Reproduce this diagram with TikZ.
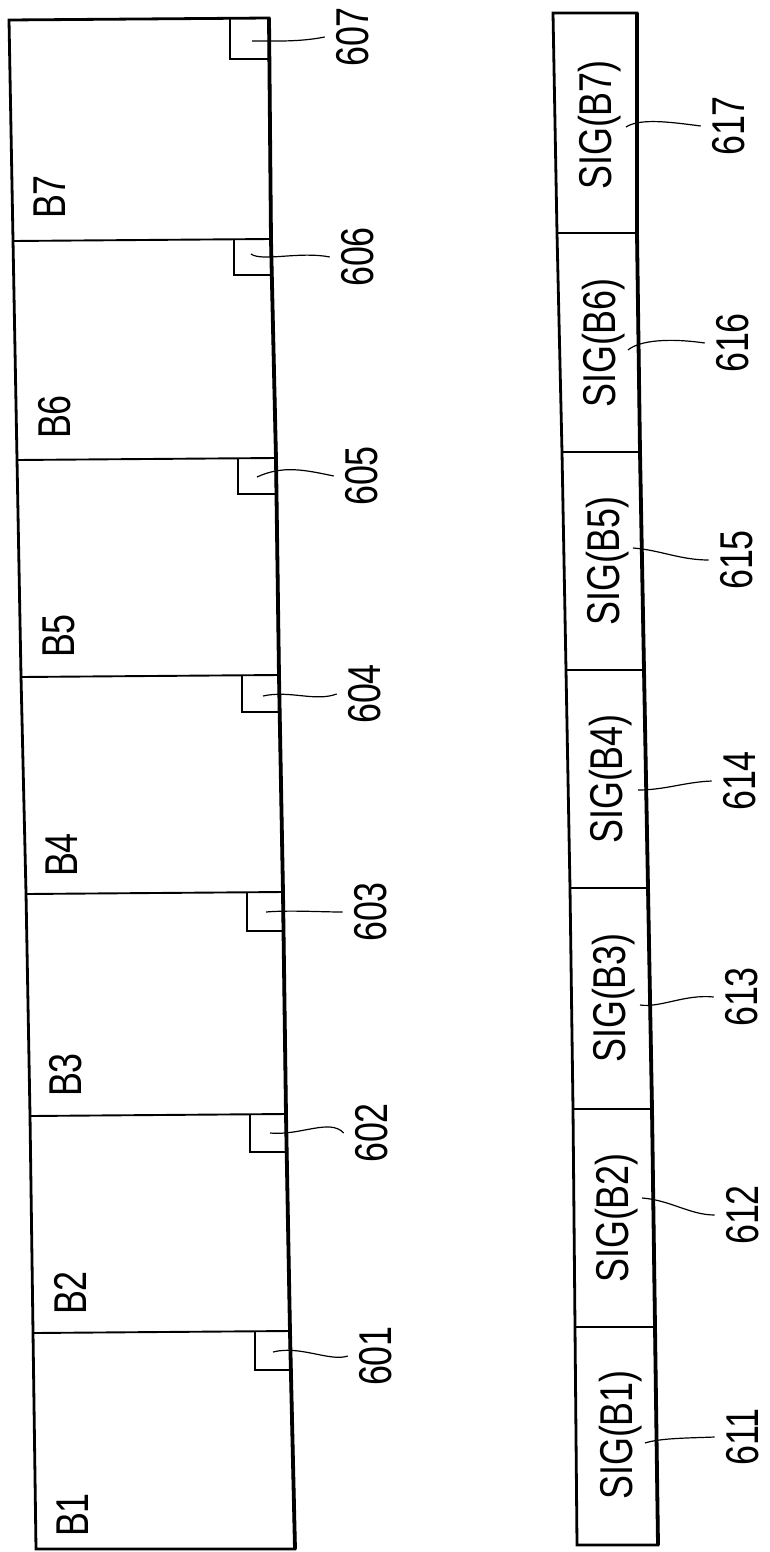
\documentclass[tikz,border=0pt]{standalone}
\usepackage{fontspec}
\setmainfont{Liberation Sans}[FakeStretch=0.78]
\usetikzlibrary{calc}
\begin{document}
\begin{tikzpicture}[x=1pt,y=-1pt,
  outline/.style={line width=2.8pt, line join=miter},
  thickedge/.style={line width=3.8pt},
  divider/.style={line width=1.9pt},
  tab/.style={line width=1.8pt},
  lead/.style={line width=1.2pt},
  txt/.style={rotate=90, inner sep=0pt, font=\fontsize{46}{48}\selectfont},
  ref/.style={txt, outer sep=12pt}]
\useasboundingbox (0,0) rectangle (769,1552);

% ---------- left frame B1..B7 ----------
\draw[outline] (9,20) -- (269,18) -- (271,240) -- (276,459) -- (279,676) -- (283,893)
  -- (286,1115) -- (290,1332) -- (295,1549) -- (36,1549) -- (33,1332) -- (30,1115)
  -- (26,893) -- (21,676) -- (17,459) -- (13,240) -- cycle;
\draw[thickedge] (269,18) -- (271,240) -- (276,459) -- (279,676) -- (283,893)
  -- (286,1115) -- (290,1332) -- (295,1549);
\draw[divider] (13,241) -- (271,239);
\draw[divider] (17,460) -- (276,458);
\draw[divider] (21,677) -- (279,675);
\draw[divider] (26,894) -- (283,892);
\draw[divider] (30,1116) -- (286,1114);
\draw[divider] (33,1333) -- (290,1331);

% small corner squares
\draw[tab] (230,19) -- (230,59) -- (269,59);
\draw[tab] (234,239) -- (234,275) -- (272,275);
\draw[tab] (238,458) -- (238,494) -- (277,494);
\draw[tab] (242,675) -- (242,712) -- (280,712);
\draw[tab] (247,892) -- (247,931) -- (284,931);
\draw[tab] (250,1114) -- (250,1152) -- (287,1152);
\draw[tab] (255,1331) -- (255,1370) -- (291,1370);

% block labels
\foreach \n/\x/\y in {7/50/197, 6/55/417, 5/59/636, 4/62/855, 3/66/1075, 2/70/1293, 1/73/1515}
  \node[txt] (b\n) at (\x,\y) {B\n};

% reference numerals 601..607
\node[ref] (l607) at (353,37) {607};
\node[ref] (l606) at (358,257) {606};
\node[ref] (l605) at (362,476) {605};
\node[ref] (l604) at (365,694) {604};
\node[ref] (l603) at (371,912) {603};
\node[ref] (l602) at (372,1133) {602};
\node[ref] (l601) at (376,1356) {601};

\coordinate (s607) at (252,41);
\coordinate (s606) at (251,254);
\coordinate (s605) at (257,477);
\coordinate (s604) at (263,696);
\coordinate (s603) at (266,912);
\coordinate (s602) at (270,1133);
\coordinate (s601) at (273,1352);

\draw[lead] (s607) .. controls (275,41) and (300,42) .. (l607.north);
\draw[lead] (s606) .. controls (262,262) and (300,251) .. (l606.north);
\draw[lead] (s605) .. controls (283,465) and (305,470) .. (l605.north);
\draw[lead] (s604) .. controls (290,690) and (315,702) .. (l604.north);
\draw[lead] (s603) .. controls (290,910) and (320,912) .. (l603.north);
\draw[lead] (s602) .. controls (300,1136) and (330,1118) .. (l602.north);
\draw[lead] (s601) .. controls (300,1345) and (330,1362) .. (l601.north);

% ---------- right strip SIG(B1)..SIG(B7) ----------
\draw[outline] (553,13) -- (637,13) -- (637,233) -- (640,452) -- (644,670) -- (648,888)
  -- (652,1109) -- (655,1327) -- (658,1545) -- (577,1545) -- (575,1327) -- (573,1109)
  -- (570,888) -- (566,670) -- (562,452) -- (557,233) -- cycle;
\draw[thickedge] (637,13) -- (637,233) -- (640,452) -- (644,670) -- (648,888)
  -- (652,1109) -- (655,1327) -- (658,1545);
\draw[divider] (557,233) -- (637,233);
\draw[divider] (562,452) -- (640,452);
\draw[divider] (566,670) -- (644,670);
\draw[divider] (570,888) -- (648,888);
\draw[divider] (573,1109) -- (652,1109);
\draw[divider] (575,1327) -- (655,1327);

\foreach \n/\x/\y in {7/600/125, 6/604/343, 5/608/561, 4/611/779, 3/614/998, 2/617/1218, 1/621/1435}
  \node[txt] (sig\n) at (\x,\y) {SIG(B\n)};

% reference numerals 611..617
\node[ref] (l617) at (729,126) {617};
\node[ref] (l616) at (733,343) {616};
\node[ref] (l615) at (737,560) {615};
\node[ref] (l614) at (740,781) {614};
\node[ref] (l613) at (742,997) {613};
\node[ref] (l612) at (743,1215) {612};
\node[ref] (l611) at (743,1437) {611};

\coordinate (s617) at (626,127);
\coordinate (s616) at (628,350);
\coordinate (s615) at (633,548);
\coordinate (s614) at (638,790);
\coordinate (s613) at (640,1005);
\coordinate (s612) at (642,1198);
\coordinate (s611) at (645,1443);

\draw[lead] (s617) .. controls (640,118) and (670,122) .. (l617.north);
\draw[lead] (s616) .. controls (640,340) and (670,338) .. (l616.north);
\draw[lead] (s615) .. controls (660,550) and (680,560) .. (l615.north);
\draw[lead] (s614) .. controls (665,790) and (685,782) .. (l614.north);
\draw[lead] (s613) .. controls (660,1008) and (685,994) .. (l613.north);
\draw[lead] (s612) .. controls (670,1200) and (690,1215) .. (l612.north);
\draw[lead] (s611) .. controls (660,1438) and (690,1438) .. (l611.north);
\end{tikzpicture}
\end{document}
